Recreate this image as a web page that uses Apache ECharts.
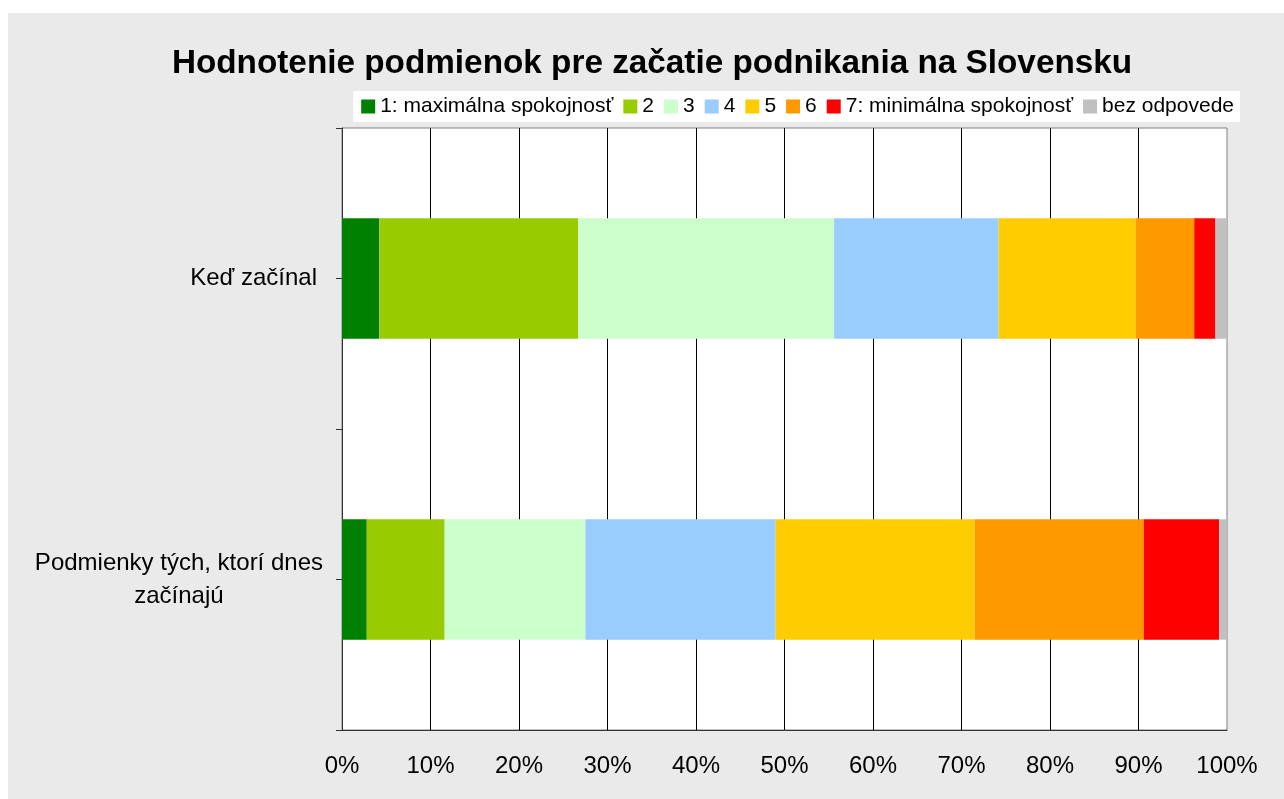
<!DOCTYPE html>
<html>
<head>
<meta charset="utf-8">
<script src="https://cdn.jsdelivr.net/npm/echarts@6/dist/echarts.min.js"></script>
<style>
html, body { margin:0; padding:0; background:#ffffff; width:1284px; height:799px; overflow:hidden; }
#chart { position:absolute; left:8px; top:13px; width:1276px; height:786px; }
</style>
</head>
<body>
<div id="chart"></div>
<script>
const titleText = 'Hodnotenie podmienok pre začatie podnikania na Slovensku';
const categories = ['Keď začínal', 'Podmienky tých, ktorí dnes\nzačínajú'];
const seriesNames = ['1: maximálna spokojnosť', '2', '3', '4', '5', '6', '7: minimálna spokojnosť', 'bez odpovede'];
const s1 = [4.2, 2.8];
const s2 = [22.5, 8.8];
const s3 = [28.9, 15.9];
const s4 = [18.6, 21.5];
const s5 = [15.5, 22.5];
const s6 = [6.6, 19.1];
const s7 = [2.4, 8.5];
const s8 = [1.3, 0.9];
const seriesValues = [s1, s2, s3, s4, s5, s6, s7, s8];
const colors = ['#008000', '#99CC00', '#CCFFCC', '#99CCFF', '#FFCC00', '#FF9900', '#FF0000', '#C0C0C0'];
const xTicks = { min: 0, max: 100, interval: 10 };

const FONT = 'Arial, "Liberation Sans", sans-serif';
const chart = echarts.init(document.getElementById('chart'));
chart.setOption({
  animation: false,
  backgroundColor: '#EAEAEA',
  color: colors,
  title: {
    text: titleText,
    left: 644,
    textAlign: 'center',
    top: 34,
    padding: 0,
    textStyle: { fontFamily: FONT, fontSize: 33.3, fontWeight: 'bold', color: '#000' }
  },
  legend: {
    data: seriesNames,
    right: 44,
    top: 78,
    padding: [5, 6, 5, 8],
    backgroundColor: '#ffffff',
    icon: 'rect',
    itemWidth: 14,
    itemHeight: 14,
    itemGap: 10,
    textStyle: { fontFamily: FONT, fontSize: 21, color: '#000' }
  },
  grid: {
    left: 334, right: 57, top: 115, bottom: 69,
    show: true, backgroundColor: '#ffffff', borderColor: '#808080', borderWidth: 1
  },
  xAxis: {
    type: 'value',
    min: xTicks.min, max: xTicks.max, interval: xTicks.interval,
    axisLine: { show: true, lineStyle: { color: '#333', width: 1 } },
    axisTick: { show: false },
    axisLabel: { formatter: '{value}%', fontFamily: FONT, fontSize: 24, color: '#000', margin: 24 },
    splitLine: { show: true, showMinLine: false, showMaxLine: false, lineStyle: { color: '#000', width: 1 } }
  },
  yAxis: [{
    type: 'category',
    data: categories,
    inverse: true,
    position: 'left',
    offset: 0,
    axisLine: { show: true, lineStyle: { color: '#333', width: 1 } },
    axisTick: { show: false },
    axisLabel: {
      fontFamily: FONT, fontSize: 24, color: '#000', margin: 19, lineHeight: 33,
      formatter: (v, idx) => {
        const style = v.indexOf('\n') < 0 ? 'p' : 'c';
        return v.split('\n').map(l => '{' + style + '|' + l + '}').join('\n');
      },
      rich: {
        c: { align: 'center', fontFamily: FONT, fontSize: 24, color: '#000', lineHeight: 33 },
        p: { align: 'center', fontFamily: FONT, fontSize: 24, color: '#000', lineHeight: 33, padding: [0, 6, 0, 0] }
      }
    },
    splitLine: { show: false }
  }, {
    type: 'category',
    data: ['', '', '', ''],
    position: 'left',
    offset: 0,
    axisLine: { show: false },
    axisTick: { show: true, length: 6, alignWithLabel: false, lineStyle: { color: '#333', width: 1 } },
    axisLabel: { show: false },
    splitLine: { show: false }
  }],
  series: seriesNames.map((name, i) => ({
    name: name,
    type: 'bar',
    stack: 'total',
    yAxisIndex: 0,
    barWidth: '40%',
    data: seriesValues[i],
    itemStyle: { color: colors[i] },
    emphasis: { disabled: true }
  }))
});
</script>
</body>
</html>
